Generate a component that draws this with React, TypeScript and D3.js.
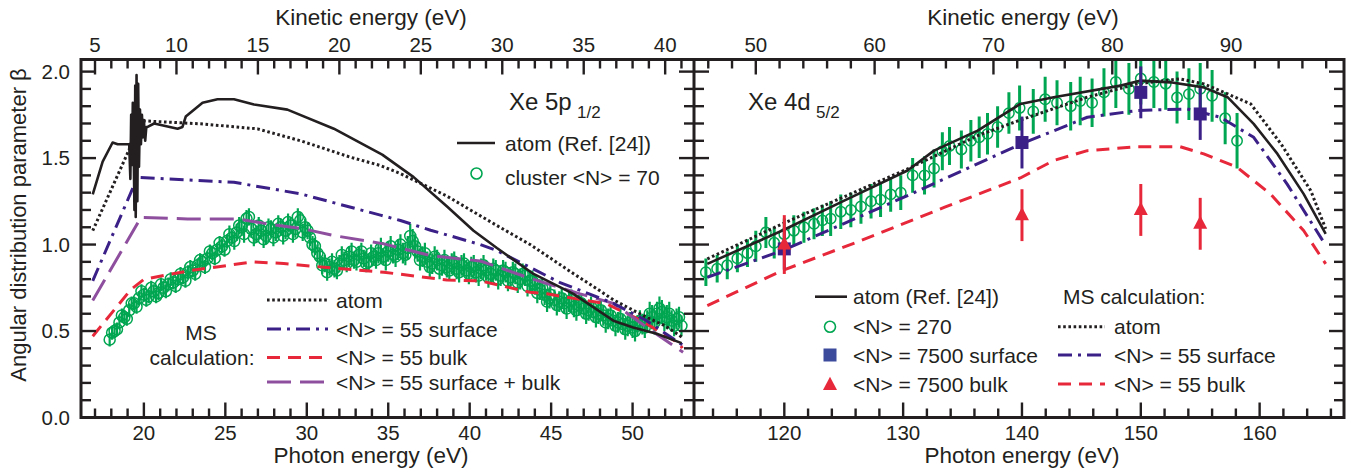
import React from 'react';
import * as d3 from 'd3';

// ---------------- data ----------------
// Left panel: Xe 5p1/2  (photon energy eV, beta)
const leftAtomRef: [number, number][] = [
  [16.86, 1.29], [17.47, 1.48], [18.08, 1.59], [18.39, 1.58], [19.1, 1.58],
  [19.17, 1.38], [19.22, 1.75], [19.27, 1.46], [19.32, 1.82], [19.37, 1.6],
  [19.42, 1.2], [19.47, 1.92], [19.5, 1.16], [19.55, 1.98], [19.6, 1.25],
  [19.65, 1.93], [19.7, 1.45], [19.76, 1.78], [19.82, 1.58], [19.88, 1.75],
  [19.94, 1.62], [20.0, 1.72], [20.08, 1.6], [20.15, 1.68], [20.23, 1.68],
  [20.63, 1.7], [22.07, 1.67], [22.37, 1.68], [22.57, 1.74], [23.6, 1.82],
  [24.52, 1.84], [25.53, 1.84], [26.76, 1.81], [28.81, 1.78], [31.66, 1.67],
  [34.63, 1.52], [36.56, 1.39], [38.61, 1.22], [40.24, 1.08], [41.67, 0.98],
  [43.92, 0.83], [46.37, 0.715], [48.82, 0.56], [50.04, 0.52], [51.48, 0.484],
  [53.01, 0.43],
];
const leftMsAtom: [number, number][] = [
  [16.86, 1.08], [19.1, 1.55], [19.61, 1.717], [23.49, 1.698], [26.97, 1.669],
  [29.62, 1.6], [32.68, 1.505], [34.52, 1.457], [35.75, 1.41], [38.61, 1.28],
  [40.04, 1.2], [41.67, 1.11], [43.71, 1.0], [44.74, 0.935], [46.4, 0.83],
  [47.8, 0.745], [48.82, 0.68], [50.04, 0.62], [50.86, 0.58], [52.0, 0.53],
  [53.1, 0.46],
];
const leftMsSurface: [number, number][] = [
  [16.86, 0.79], [19.61, 1.389], [25.53, 1.36], [29.62, 1.293], [34.52, 1.17],
  [35.75, 1.139], [37.6, 1.083], [40.65, 1.0], [41.67, 0.965], [45.55, 0.78],
  [48.82, 0.66], [50.86, 0.56], [53.05, 0.42],
];
const leftMsBulk: [number, number][] = [
  [16.86, 0.47], [19.2, 0.74], [20.02, 0.8], [22.88, 0.85], [26.76, 0.9],
  [28.59, 0.89], [31.05, 0.869], [34.73, 0.84], [38.61, 0.795], [40.65, 0.79],
  [43.71, 0.724], [44.74, 0.715], [48.41, 0.657], [50.45, 0.565], [52.9, 0.426],
  [53.05, 0.4],
];
const leftMsSurfBulk: [number, number][] = [
  [16.86, 0.676], [19.82, 1.157], [22.68, 1.148], [25.74, 1.148], [27.58, 1.12],
  [29.82, 1.09], [31.66, 1.052], [34.73, 1.004], [37.59, 0.936], [40.65, 0.905],
  [43.71, 0.805], [46.78, 0.715], [48.82, 0.66], [50.86, 0.522], [53.1, 0.377],
];
// cluster <N> = 70 : [photon energy, beta, error]  (two interleaved scans)
const leftCluster70: [number, number, number][] = [
  [17.9, 0.45, 0.04], [18.2, 0.5, 0.04], [18.5, 0.55, 0.04], [18.8, 0.58, 0.04],
  [19.1, 0.62, 0.04], [19.4, 0.66, 0.04], [19.7, 0.69, 0.04], [20.0, 0.71, 0.04],
  [20.3, 0.7, 0.04], [20.6, 0.73, 0.04], [20.9, 0.72, 0.04], [21.2, 0.75, 0.04],
  [21.5, 0.77, 0.04], [21.8, 0.78, 0.04], [22.1, 0.8, 0.04], [22.4, 0.81, 0.04],
  [22.7, 0.84, 0.04], [23.0, 0.85, 0.04], [23.3, 0.88, 0.04], [23.6, 0.9, 0.04],
  [23.9, 0.92, 0.04], [24.2, 0.95, 0.04], [24.5, 0.97, 0.04], [24.8, 0.99, 0.04],
  [25.1, 1.02, 0.04], [25.4, 1.04, 0.04], [25.7, 1.07, 0.05], [26.0, 1.1, 0.05],
  [26.3, 1.15, 0.05], [26.6, 1.09, 0.05], [26.9, 1.06, 0.05], [27.2, 1.08, 0.05],
  [27.5, 1.05, 0.05], [27.8, 1.09, 0.05], [28.1, 1.07, 0.05], [28.4, 1.1, 0.05],
  [28.7, 1.08, 0.05], [29.0, 1.11, 0.05], [29.3, 1.09, 0.05], [29.6, 1.14, 0.05],
  [29.9, 1.1, 0.05], [30.2, 1.04, 0.05], [30.5, 0.99, 0.05], [30.8, 0.93, 0.05],
  [31.1, 0.89, 0.05], [31.4, 0.87, 0.05], [31.7, 0.86, 0.05], [32.0, 0.89, 0.05],
  [32.3, 0.91, 0.05], [32.6, 0.93, 0.06], [32.9, 0.91, 0.05], [33.2, 0.94, 0.05],
  [33.5, 0.92, 0.05], [33.8, 0.9, 0.05], [34.1, 0.93, 0.05], [34.4, 0.95, 0.06],
  [34.7, 0.93, 0.05], [35.0, 0.96, 0.06], [35.3, 0.94, 0.05], [35.6, 0.97, 0.06],
  [35.9, 0.95, 0.06], [36.2, 0.98, 0.07], [36.5, 1.02, 0.07], [36.8, 0.96, 0.06],
  [37.1, 0.93, 0.06], [37.4, 0.9, 0.06], [37.7, 0.89, 0.06], [38.0, 0.91, 0.06],
  [38.3, 0.88, 0.06], [38.6, 0.87, 0.06], [38.9, 0.89, 0.06], [39.2, 0.86, 0.06],
  [39.5, 0.88, 0.06], [39.8, 0.85, 0.06], [40.1, 0.87, 0.06], [40.4, 0.84, 0.06],
  [40.7, 0.86, 0.06], [41.0, 0.85, 0.06], [41.3, 0.83, 0.06], [41.6, 0.85, 0.06],
  [41.9, 0.82, 0.06], [42.2, 0.84, 0.06], [42.5, 0.81, 0.06], [42.8, 0.83, 0.06],
  [43.1, 0.8, 0.06], [43.4, 0.82, 0.06], [43.7, 0.79, 0.06], [44.0, 0.77, 0.06],
  [44.3, 0.74, 0.06], [44.6, 0.71, 0.06], [44.9, 0.69, 0.06], [45.2, 0.68, 0.06],
  [45.5, 0.67, 0.06], [45.8, 0.66, 0.06], [46.1, 0.67, 0.06], [46.4, 0.64, 0.06],
  [46.7, 0.65, 0.06], [47.0, 0.63, 0.06], [47.3, 0.62, 0.06], [47.6, 0.61, 0.06],
  [47.9, 0.6, 0.06], [48.2, 0.59, 0.06], [48.5, 0.57, 0.06], [48.8, 0.56, 0.06],
  [49.1, 0.55, 0.06], [49.4, 0.54, 0.06], [49.7, 0.53, 0.06], [50.0, 0.52, 0.06],
  [50.3, 0.53, 0.06], [50.6, 0.54, 0.06], [50.9, 0.56, 0.06], [51.2, 0.58, 0.07],
  [51.5, 0.6, 0.07], [51.8, 0.61, 0.07], [52.1, 0.58, 0.07], [52.4, 0.56, 0.06],
  [52.7, 0.57, 0.06], [53.0, 0.53, 0.06],
];
const leftCluster70b: [number, number, number][] = [
  [18.05, 0.49, 0.04], [18.35, 0.51, 0.04], [18.65, 0.59, 0.04], [18.95, 0.57, 0.04],
  [19.25, 0.66, 0.04], [19.55, 0.64, 0.04], [19.85, 0.73, 0.04], [20.15, 0.68, 0.04],
  [20.45, 0.75, 0.04], [20.75, 0.7, 0.04], [21.05, 0.77, 0.04], [21.35, 0.73, 0.04],
  [21.65, 0.8, 0.04], [21.95, 0.76, 0.04], [22.25, 0.83, 0.04], [22.55, 0.79, 0.04],
  [22.85, 0.87, 0.04], [23.15, 0.83, 0.04], [23.45, 0.91, 0.04], [23.75, 0.87, 0.04],
  [24.05, 0.96, 0.04], [24.35, 0.92, 0.04], [24.65, 1.01, 0.04], [24.95, 0.97, 0.04],
  [25.25, 1.06, 0.05], [25.55, 1.02, 0.05], [25.85, 1.11, 0.05], [26.15, 1.06, 0.05],
  [26.45, 1.16, 0.05], [26.75, 1.04, 0.05], [27.05, 1.11, 0.05], [27.35, 1.03, 0.05],
  [27.65, 1.1, 0.05], [27.95, 1.04, 0.05], [28.25, 1.12, 0.05], [28.55, 1.05, 0.05],
  [28.85, 1.13, 0.05], [29.15, 1.06, 0.05], [29.45, 1.16, 0.05], [29.75, 1.07, 0.05],
  [30.05, 1.08, 0.05], [30.35, 1.0, 0.05], [30.65, 0.95, 0.05], [30.95, 0.88, 0.05],
  [31.25, 0.84, 0.05], [31.55, 0.9, 0.05], [31.85, 0.85, 0.05], [32.15, 0.94, 0.05],
  [32.45, 0.89, 0.05], [32.75, 0.96, 0.05], [33.05, 0.9, 0.05], [33.35, 0.96, 0.05],
  [33.65, 0.89, 0.05], [33.95, 0.95, 0.05], [34.25, 0.91, 0.05], [34.55, 0.98, 0.06],
  [34.85, 0.91, 0.06], [35.15, 0.99, 0.06], [35.45, 0.93, 0.06], [35.75, 1.0, 0.06],
  [36.05, 0.94, 0.06], [36.35, 1.05, 0.07], [36.65, 0.99, 0.07], [36.95, 0.91, 0.06],
  [37.25, 0.95, 0.06], [37.55, 0.87, 0.06], [37.85, 0.93, 0.06], [38.15, 0.86, 0.06],
  [38.45, 0.91, 0.06], [38.75, 0.85, 0.06], [39.05, 0.9, 0.06], [39.35, 0.84, 0.06],
  [39.65, 0.89, 0.06], [39.95, 0.83, 0.06], [40.25, 0.88, 0.06], [40.55, 0.82, 0.06],
  [40.85, 0.88, 0.06], [41.15, 0.81, 0.06], [41.45, 0.86, 0.06], [41.75, 0.8, 0.06],
  [42.05, 0.85, 0.06], [42.35, 0.79, 0.06], [42.65, 0.84, 0.06], [42.95, 0.78, 0.06],
  [43.25, 0.83, 0.06], [43.55, 0.76, 0.06], [43.85, 0.79, 0.06], [44.15, 0.72, 0.06],
  [44.45, 0.75, 0.06], [44.75, 0.67, 0.06], [44.95, 0.71, 0.06], [45.35, 0.65, 0.06],
  [45.65, 0.69, 0.06], [45.95, 0.63, 0.06], [46.25, 0.68, 0.06], [46.55, 0.62, 0.06],
  [46.85, 0.66, 0.06], [47.15, 0.6, 0.06], [47.45, 0.64, 0.06], [47.75, 0.58, 0.06],
  [48.05, 0.62, 0.06], [48.35, 0.55, 0.06], [48.65, 0.59, 0.06], [48.95, 0.53, 0.06],
  [49.25, 0.57, 0.06], [49.55, 0.51, 0.06], [49.85, 0.55, 0.06], [50.15, 0.5, 0.06],
  [50.45, 0.56, 0.06], [50.75, 0.52, 0.06], [51.05, 0.6, 0.07], [51.35, 0.55, 0.07],
  [51.65, 0.63, 0.07], [51.95, 0.57, 0.07], [52.25, 0.6, 0.07], [52.55, 0.53, 0.06],
  [52.85, 0.58, 0.06],
];

// Right panel: Xe 4d5/2
const rightAtomRef: [number, number][] = [
  [113.52, 0.888], [119.84, 1.081], [125.04, 1.254], [130.37, 1.428], [132.6, 1.543],
  [136.27, 1.659], [139.86, 1.813], [142.67, 1.852], [148.3, 1.919], [150.0, 1.948],
  [152.5, 1.938], [155.3, 1.909], [157.3, 1.852], [159.5, 1.698], [161.5, 1.524],
  [163.7, 1.293], [165.56, 1.062],
];
const rightMsAtom: [number, number][] = [
  [113.52, 0.917], [119.84, 1.12], [130.37, 1.437], [136.27, 1.63], [139.86, 1.72],
  [145.5, 1.852], [149.7, 1.929], [153.3, 1.958], [155.3, 1.929], [157.3, 1.871],
  [159.25, 1.813], [161.8, 1.582], [164.3, 1.312], [165.56, 1.091],
];
const rightMsSurface: [number, number][] = [
  [113.52, 0.811], [119.84, 0.965], [130.37, 1.283], [139.86, 1.58], [145.5, 1.736],
  [149.7, 1.775], [153.9, 1.784], [156.7, 1.736], [159.5, 1.62], [162.3, 1.351],
  [165.4, 1.013],
];
const rightMsBulk: [number, number][] = [
  [113.52, 0.647], [119.84, 0.85], [126.45, 1.023], [133.5, 1.216], [139.86, 1.385],
  [142.67, 1.486], [145.5, 1.543], [149.7, 1.566], [153.3, 1.566], [155.3, 1.524],
  [158.1, 1.447], [160.9, 1.293], [163.7, 1.081], [165.56, 0.888],
];
const rightCluster270: [number, number, number][] = [
  [113.4, 0.84, 0.08], [114.35, 0.86, 0.08], [115.2, 0.88, 0.08], [116.05, 0.92, 0.08],
  [116.9, 0.95, 0.08], [117.6, 0.99, 0.09], [118.45, 1.07, 0.09], [119.15, 1.01, 0.09],
  [120.0, 1.06, 0.09], [120.8, 1.08, 0.09], [121.65, 1.1, 0.09], [122.5, 1.12, 0.09],
  [123.2, 1.14, 0.09], [123.9, 1.15, 0.1], [124.75, 1.19, 0.1], [125.6, 1.2, 0.1],
  [126.45, 1.22, 0.1], [127.3, 1.25, 0.1], [128.1, 1.26, 0.1], [128.95, 1.29, 0.1],
  [129.8, 1.3, 0.1], [130.8, 1.4, 0.1], [131.8, 1.4, 0.11], [132.6, 1.44, 0.11],
  [133.3, 1.54, 0.11], [133.9, 1.57, 0.11], [134.9, 1.55, 0.11], [135.7, 1.6, 0.12],
  [136.4, 1.62, 0.12], [137.1, 1.64, 0.12], [137.95, 1.68, 0.12], [138.9, 1.76, 0.12],
  [139.8, 1.79, 0.13], [140.95, 1.77, 0.13], [141.95, 1.84, 0.13], [142.95, 1.82, 0.13],
  [144.1, 1.8, 0.14], [144.9, 1.83, 0.14], [145.9, 1.82, 0.14], [146.9, 1.88, 0.14],
  [147.9, 1.94, 0.15], [149.0, 1.9, 0.15], [150.0, 1.96, 0.15], [151.1, 1.94, 0.15],
  [152.1, 1.93, 0.15], [153.05, 1.85, 0.15], [154.05, 1.87, 0.15], [155.0, 1.9, 0.15],
  [156.0, 1.86, 0.15], [157.1, 1.73, 0.15], [158.1, 1.6, 0.16],
];
const rightSurf7500: [number, number, number][] = [
  [120.0, 0.975, 0.12], [140.0, 1.59, 0.15], [150.0, 1.88, 0.15], [155.0, 1.755, 0.15],
];
const rightBulk7500: [number, number, number][] = [
  [120.0, 1.0, 0.17], [140.0, 1.17, 0.15], [150.0, 1.2, 0.15], [155.0, 1.12, 0.15],
];

// axis ticks
const yMajor = [0, 0.5, 1.0, 1.5, 2.0];
const yLabels = ['0.0', '0.5', '1.0', '1.5', '2.0'];
const leftBottomMajor = [20, 25, 30, 35, 40, 45, 50];
const leftTopMajor = [5, 10, 15, 20, 25, 30, 35, 40];
const rightBottomMajor = [120, 130, 140, 150, 160];
const rightTopMajor = [50, 60, 70, 80, 90];
const leftKeOffset = 12.0;
const rightKeOffset = 67.6;

// ---------------- layout ----------------
const W = 1355;
const H = 468;
const TOP = 59.5;
const BOT = 417.5;
const XL0 = 81;
const XM = 694;
const XR1 = 1344;
const FONT = "'Liberation Sans', Arial, Helvetica, sans-serif";
const INK = '#231f20';
const GREEN = '#00a651';
const NAVY = '#3b2088';
const NAVY_L = '#3d4b9c';
const RED = '#e7283b';
const PURPLE = '#8f4f9f';

const y = d3.scaleLinear().domain([0, 2.07]).range([BOT, TOP]);
const xL = d3.scaleLinear().domain([16.14, 53.77]).range([XL0, XM]);
const xR = d3.scaleLinear().domain([112.4, 167.1]).range([XM, XR1]);

const MAJ = 15;
const MIN = 9;

const styles = {
  solid: { stroke: INK, strokeWidth: 2.6, strokeDasharray: undefined as string | undefined },
  dotted: { stroke: INK, strokeWidth: 3, strokeDasharray: '2.6,2.6' },
  dashdot: { stroke: NAVY, strokeWidth: 3, strokeDasharray: '14,6,3,6' },
  bulk: { stroke: RED, strokeWidth: 3, strokeDasharray: '13,8' },
  surfbulk: { stroke: PURPLE, strokeWidth: 3, strokeDasharray: '24,9' },
};

function Curve({ data, xs, st, clip }: { data: [number, number][]; xs: d3.ScaleLinear<number, number>; st: any; clip: string }) {
  const gen = d3.line<[number, number]>().x((d) => xs(d[0])).y((d) => y(d[1]));
  return (
    <path d={gen(data) || ''} fill="none" stroke={st.stroke} strokeWidth={st.strokeWidth}
      strokeDasharray={st.strokeDasharray} strokeLinejoin="round" clipPath={`url(#${clip})`} />
  );
}

function HTicks({ xs, values, yPos, dir, len }: { xs: (v: number) => number; values: number[]; yPos: number; dir: number; len: number }) {
  return (
    <g stroke={INK} strokeWidth={2.4}>
      {values.map((v, i) => (
        <line key={i} x1={xs(v)} x2={xs(v)} y1={yPos} y2={yPos + dir * len} />
      ))}
    </g>
  );
}

function VTicks({ xPos, dir }: { xPos: number; dir: number }) {
  const vals = d3.range(0, 21).map((k) => k / 10);
  return (
    <g stroke={INK} strokeWidth={2.4}>
      {vals.map((v, i) => {
        const major = i % 5 === 0;
        return <line key={i} x1={xPos} x2={xPos + dir * (major ? MAJ : MIN + 1)} y1={y(v)} y2={y(v)} />;
      })}
    </g>
  );
}

function TriangleMark({ cx, cy, s, fill }: { cx: number; cy: number; s: number; fill: string }) {
  const h = s * 0.95;
  const p = `${cx},${cy - h * 0.62} ${cx + s / 2},${cy + h * 0.38} ${cx - s / 2},${cy + h * 0.38}`;
  return <polygon points={p} fill={fill} />;
}

export default function App() {
  const lbMinor = d3.range(17, 54).filter((v) => !leftBottomMajor.includes(v));
  const ltMinor = d3.range(5, 42).filter((v) => !leftTopMajor.includes(v));
  const rbMinor = d3.range(114, 167, 2).filter((v) => !rightBottomMajor.includes(v));
  const rtMinor = d3.range(46, 100, 2).filter((v) => !rightTopMajor.includes(v));
  const xLk = (k: number) => xL(k + leftKeOffset);
  const xRk = (k: number) => xR(k + rightKeOffset);
  const leftAll = [...leftCluster70, ...leftCluster70b];

  const textProps = { fontFamily: FONT, fill: INK };

  return (
    <svg width={W} height={H} viewBox={`0 0 ${W} ${H}`} style={{ position: 'absolute', left: 0, top: 0, background: '#fff' }}>
      <defs>
        <clipPath id="clipL"><rect x={XL0} y={TOP} width={XM - XL0} height={BOT - TOP} /></clipPath>
        <clipPath id="clipR"><rect x={XM} y={TOP} width={XR1 - XM} height={BOT - TOP} /></clipPath>
      </defs>
      <rect x={0} y={0} width={W} height={H} fill="#fff" />

      {/* ---------- Left panel data ---------- */}
      <g clipPath="url(#clipL)">
        {leftAll.map((d, i) => (
          <line key={'le' + i} x1={xL(d[0])} x2={xL(d[0])} y1={y(d[1] - d[2])} y2={y(d[1] + d[2])} stroke={GREEN} strokeWidth={2.2} />
        ))}
        {leftAll.map((d, i) => (
          <circle key={'lc' + i} cx={xL(d[0])} cy={y(d[1])} r={5.5} fill="none" stroke={GREEN} strokeWidth={1.5} />
        ))}
      </g>
      <Curve data={leftMsBulk} xs={xL} st={styles.bulk} clip="clipL" />
      <Curve data={leftMsSurfBulk} xs={xL} st={styles.surfbulk} clip="clipL" />
      <Curve data={leftMsSurface} xs={xL} st={styles.dashdot} clip="clipL" />
      <Curve data={leftMsAtom} xs={xL} st={styles.dotted} clip="clipL" />
      <Curve data={leftAtomRef} xs={xL} st={styles.solid} clip="clipL" />

      {/* ---------- Right panel data ---------- */}
      <g clipPath="url(#clipR)">
        {rightCluster270.map((d, i) => (
          <line key={'re' + i} x1={xR(d[0])} x2={xR(d[0])} y1={y(d[1] - d[2])} y2={y(d[1] + d[2])} stroke={GREEN} strokeWidth={3} />
        ))}
        {rightCluster270.map((d, i) => (
          <circle key={'rc' + i} cx={xR(d[0])} cy={y(d[1])} r={5.2} fill="none" stroke={GREEN} strokeWidth={1.5} />
        ))}
      </g>
      <Curve data={rightMsBulk} xs={xR} st={styles.bulk} clip="clipR" />
      <Curve data={rightMsSurface} xs={xR} st={styles.dashdot} clip="clipR" />
      <Curve data={rightMsAtom} xs={xR} st={styles.dotted} clip="clipR" />
      <Curve data={rightAtomRef} xs={xR} st={styles.solid} clip="clipR" />
      {rightSurf7500.map((d, i) => (
        <g key={'sq' + i}>
          <line x1={xR(d[0])} x2={xR(d[0])} y1={y(d[1] - d[2])} y2={y(d[1] + d[2])} stroke={NAVY} strokeWidth={3} />
          <rect x={xR(d[0]) - 6.5} y={y(d[1]) - 6.5} width={13} height={13} fill={NAVY} />
        </g>
      ))}
      {rightBulk7500.map((d, i) => (
        <g key={'tr' + i}>
          <line x1={xR(d[0])} x2={xR(d[0])} y1={y(d[1] - d[2])} y2={y(d[1] + d[2])} stroke={RED} strokeWidth={3} />
          <TriangleMark cx={xR(d[0])} cy={y(d[1])} s={14} fill={RED} />
        </g>
      ))}

      {/* ---------- Frames ---------- */}
      <rect x={XL0} y={TOP} width={XR1 - XL0} height={BOT - TOP} fill="none" stroke={INK} strokeWidth={3} />
      <line x1={XM} x2={XM} y1={TOP} y2={BOT} stroke={INK} strokeWidth={3} />

      {/* ticks left panel */}
      <HTicks xs={xL} values={leftBottomMajor} yPos={BOT} dir={-1} len={MAJ} />
      <HTicks xs={xL} values={lbMinor} yPos={BOT} dir={-1} len={MIN} />
      <HTicks xs={xLk} values={leftTopMajor} yPos={TOP} dir={1} len={MAJ} />
      <HTicks xs={xLk} values={ltMinor} yPos={TOP} dir={1} len={MIN} />
      <VTicks xPos={XL0} dir={1} />
      <VTicks xPos={XM} dir={-1} />
      {/* ticks right panel */}
      <HTicks xs={xR} values={rightBottomMajor} yPos={BOT} dir={-1} len={MAJ} />
      <HTicks xs={xR} values={rbMinor} yPos={BOT} dir={-1} len={MIN} />
      <HTicks xs={xRk} values={rightTopMajor} yPos={TOP} dir={1} len={MAJ} />
      <HTicks xs={xRk} values={rtMinor} yPos={TOP} dir={1} len={MIN} />
      <VTicks xPos={XM} dir={1} />
      <VTicks xPos={XR1} dir={-1} />

      {/* tick labels */}
      <g {...textProps} fontSize={20.5} textAnchor="middle">
        {leftBottomMajor.map((v) => <text key={'lb' + v} x={xL(v)} y={440}>{v}</text>)}
        {leftTopMajor.map((v) => <text key={'lt' + v} x={xLk(v)} y={51.5}>{v}</text>)}
        {rightBottomMajor.map((v) => <text key={'rb' + v} x={xR(v)} y={440}>{v}</text>)}
        {rightTopMajor.map((v) => <text key={'rt' + v} x={xRk(v)} y={51.5}>{v}</text>)}
      </g>
      <g {...textProps} fontSize={20.5} textAnchor="end">
        {yMajor.map((v, i) => <text key={'y' + i} x={70} y={y(v) + 7.2}>{yLabels[i]}</text>)}
      </g>

      {/* axis titles */}
      <g {...textProps} fontSize={22.5} textAnchor="middle">
        <text x={371} y={25}>Kinetic energy (eV)</text>
        <text x={1023} y={25}>Kinetic energy (eV)</text>
        <text x={371} y={463}>Photon energy (eV)</text>
        <text x={1022} y={463}>Photon energy (eV)</text>
        <text x={0} y={0} fontSize={22} transform="translate(26,225) rotate(-90)">Angular distribution parameter β</text>
      </g>

      {/* panel titles */}
      <text {...textProps} x={509} y={110} fontSize={24}>Xe 5p</text>
      <text {...textProps} x={577} y={118} fontSize={17}>1/2</text>
      <text {...textProps} x={748} y={110} fontSize={24}>Xe 4d</text>
      <text {...textProps} x={816} y={118} fontSize={17}>5/2</text>

      {/* left upper legend */}
      <g {...textProps} fontSize={21}>
        <line x1={457} x2={495} y1={143} y2={143} stroke={INK} strokeWidth={2.6} />
        <text x={505} y={150.5}>atom (Ref. [24])</text>
        <circle cx={476.5} cy={173.5} r={5.5} fill="none" stroke={GREEN} strokeWidth={1.6} />
        <text x={505} y={185}>cluster &lt;N&gt; = 70</text>
      </g>

      {/* left lower legend */}
      <g {...textProps} fontSize={21}>
        <text x={201} y={340} textAnchor="middle">MS</text>
        <text x={202} y={365} textAnchor="middle">calculation:</text>
        {[
          { st: styles.dotted, yy: 300, label: 'atom' },
          { st: styles.dashdot, yy: 329, label: '<N> = 55 surface' },
          { st: styles.bulk, yy: 357.5, label: '<N> = 55 bulk' },
          { st: styles.surfbulk, yy: 382, label: '<N> = 55 surface + bulk' },
        ].map((r, i) => (
          <g key={'ll' + i}>
            <line x1={267} x2={328} y1={r.yy} y2={r.yy} stroke={r.st.stroke} strokeWidth={r.st.strokeWidth}
              strokeDasharray={r.st.strokeDasharray} />
            <text x={336} y={r.yy + 7.5}>{r.label}</text>
          </g>
        ))}
      </g>

      {/* right legend 1 */}
      <g {...textProps} fontSize={21}>
        <line x1={815} x2={847} y1={296.7} y2={296.7} stroke={INK} strokeWidth={2.6} />
        <text x={853} y={304}>atom (Ref. [24])</text>
        <circle cx={830} cy={326.7} r={5.5} fill="none" stroke={GREEN} strokeWidth={1.6} />
        <text x={853} y={334}>&lt;N&gt; = 270</text>
        <rect x={823.5} y={348.5} width={13} height={13} fill={NAVY_L} />
        <text x={853} y={362.5}>&lt;N&gt; = 7500 surface</text>
        <TriangleMark cx={830} cy={385} s={14} fill={RED} />
        <text x={853} y={391.5}>&lt;N&gt; = 7500 bulk</text>
      </g>

      {/* right legend 2 */}
      <g {...textProps} fontSize={21}>
        <text x={1063} y={304}>MS calculation:</text>
        {[
          { st: styles.dotted, yy: 326.7, label: 'atom' },
          { st: styles.dashdot, yy: 355, label: '<N> = 55 surface' },
          { st: styles.bulk, yy: 384, label: '<N> = 55 bulk' },
        ].map((r, i) => (
          <g key={'rl' + i}>
            <line x1={1058} x2={1105} y1={r.yy} y2={r.yy} stroke={r.st.stroke} strokeWidth={r.st.strokeWidth}
              strokeDasharray={r.st.strokeDasharray} />
            <text x={1114} y={r.yy + 7.5}>{r.label}</text>
          </g>
        ))}
      </g>
    </svg>
  );
}
